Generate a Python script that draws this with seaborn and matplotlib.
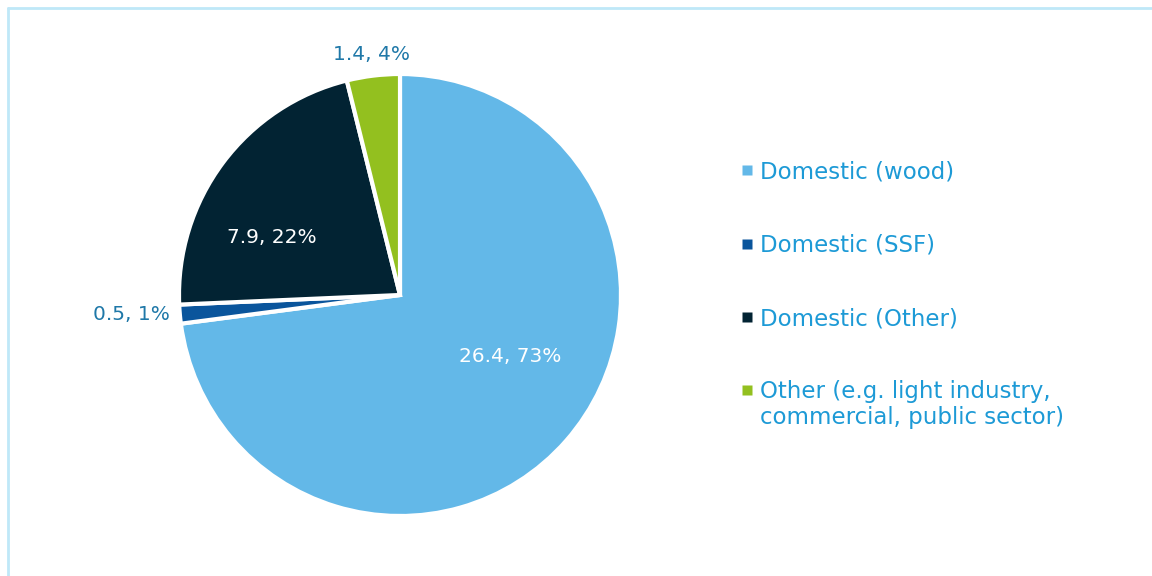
import matplotlib
matplotlib.use("Agg")
import matplotlib.pyplot as plt
import seaborn as sns
from matplotlib.lines import Line2D

categories = ["Domestic (wood)", "Domestic (SSF)", "Domestic (Other)",
              "Other (e.g. light industry,"]
category_extra_line = "commercial, public sector)"
values = [26.4, 0.5, 7.9, 1.4]
percents = [73, 1, 22, 4]
colors = ["#63b8e8", "#0a559c", "#022333", "#93c01f"]

sns.set_theme(style="white")
plt.rcParams['font.family'] = ['DejaVu Sans']

fig = plt.figure(figsize=(11.52, 5.76), dpi=100)
L = 1.3
R_px = 221
S = 2 * L * R_px
cx, cy = 400, 576 - 295
ax = fig.add_axes([(cx - S / 2) / 1152, (cy - S / 2) / 576, S / 1152, S / 576])
ax.axis("off")

wedges, _ = ax.pie(values, colors=sns.color_palette(colors), startangle=90,
                   counterclock=False, radius=1.0,
                   wedgeprops=dict(edgecolor="white", linewidth=3))
ax.set_xlim(-L, L)
ax.set_ylim(-L, L)
ax.set_aspect("equal")

label_pos = [(0.50, -0.28), (-1.215, -0.086), (-0.58, 0.26), (-0.127, 1.086)]
label_col = ["white", "#1f78a8", "white", "#1f78a8"]
for v, p, pos, c in zip(values, percents, label_pos, label_col):
    ax.text(pos[0], pos[1], f"{v}, {p}%", color=c, fontsize=14.5,
            ha="center", va="center")

legend_color = "#1d9ad6"
handles = [Line2D([0], [0], marker="s", color="none", markerfacecolor=c,
                  markeredgecolor="none", markersize=7) for c in colors]
leg = fig.legend(handles, categories, loc="upper left",
                 bbox_to_anchor=(731 / 1152, 1 - 151 / 576), frameon=False,
                 fontsize=16.5, labelspacing=2.2, handlelength=0.6,
                 handletextpad=0.25, borderaxespad=0)
for t in leg.get_texts():
    t.set_color(legend_color)

fig.canvas.draw()
renderer = fig.canvas.get_renderer()
last = leg.get_texts()[-1]
bb = last.get_window_extent(renderer).transformed(fig.transFigure.inverted())
fig.text(bb.x0, bb.y0 - 0.004, category_extra_line, color=legend_color,
         fontsize=16.5, ha="left", va="top")

# frame lines (top and left)
fig.add_artist(Line2D([8 / 1152, 8 / 1152], [0, 1 - 8 / 576], color="#bfe8f8",
                      lw=2, transform=fig.transFigure))
fig.add_artist(Line2D([8 / 1152, 1], [1 - 8 / 576, 1 - 8 / 576], color="#bfe8f8",
                      lw=2, transform=fig.transFigure))

fig.savefig("out.png", dpi=100)
